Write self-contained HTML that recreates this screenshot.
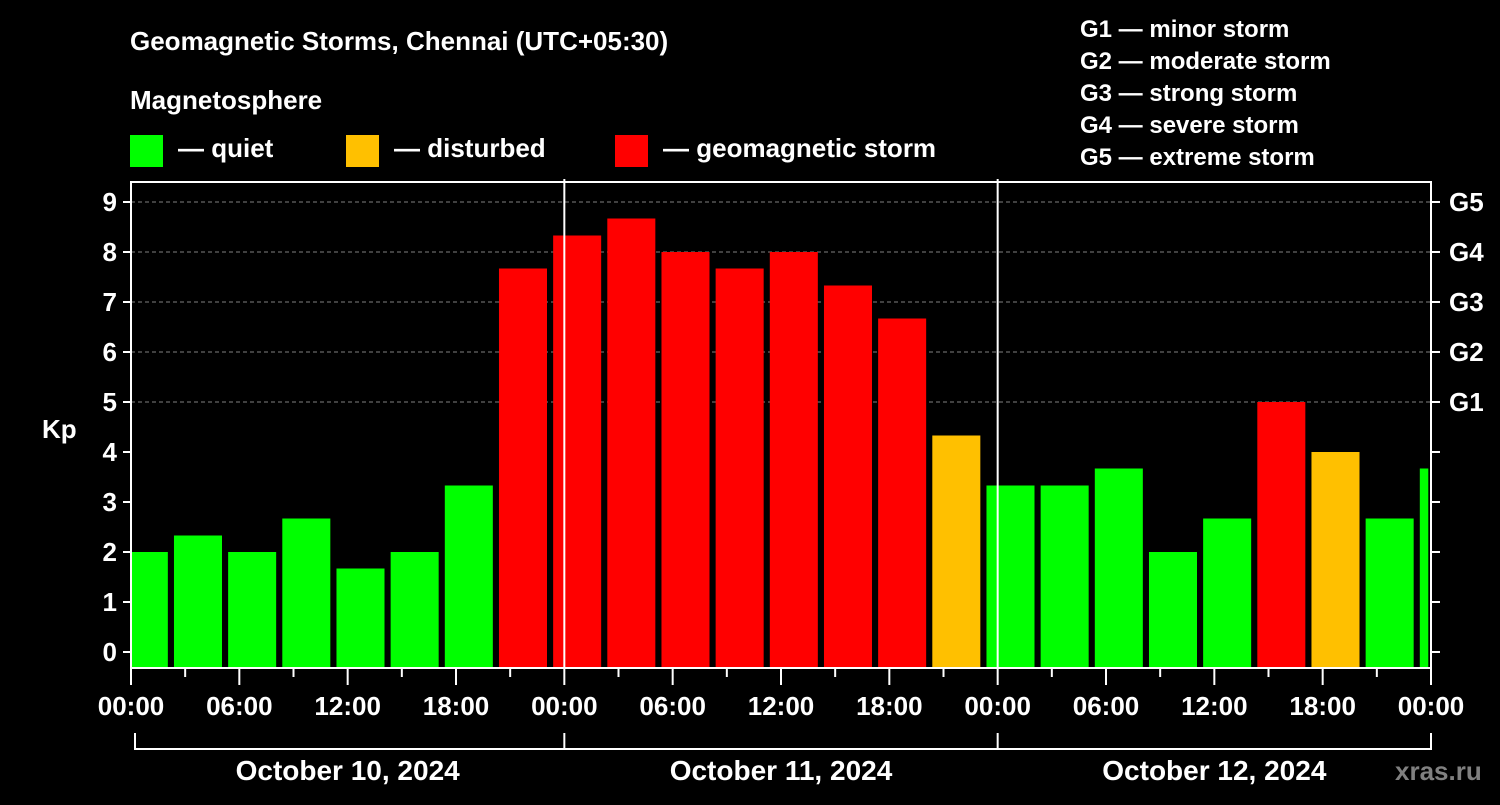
<!DOCTYPE html>
<html><head><meta charset="utf-8"><style>
body{margin:0;background:#000;width:1500px;height:800px;overflow:hidden}
svg text{font-family:"Liberation Sans",Arial,sans-serif;font-weight:bold;fill:#fff}
</style></head><body>
<svg id="c" width="1500" height="800" xmlns="http://www.w3.org/2000/svg">
<rect width="1500" height="800" fill="#000"/>
<text x="130" y="50" font-size="26">Geomagnetic Storms, Chennai (UTC+05:30)</text>
<text x="130" y="109" font-size="26">Magnetosphere</text>
<g><rect x="130" y="135" width="33" height="32" fill="#00ff00"/><text x="178" y="157" font-size="26">— quiet</text></g>
<g><rect x="346" y="135" width="33" height="32" fill="#ffc000"/><text x="394" y="157" font-size="26">— disturbed</text></g>
<g><rect x="615" y="135" width="33" height="32" fill="#ff0000"/><text x="663" y="157" font-size="26">— geomagnetic storm</text></g>
<g font-size="24">
<text x="1080" y="37">G1 — minor storm</text>
<text x="1080" y="69">G2 — moderate storm</text>
<text x="1080" y="101">G3 — strong storm</text>
<text x="1080" y="133">G4 — severe storm</text>
<text x="1080" y="165">G5 — extreme storm</text>
</g>
<text x="42" y="438" font-size="26">Kp</text>
<text x="1395" y="780" font-size="26" fill="#808080" style="fill:#808080">xras.ru</text>
<g id="plot"></g>
</svg>
<script>
const kpValues=[2,2.33,2,2.67,1.67,2,3.33,7.67,8.33,8.67,8,7.67,8,7.33,6.67,4.33,3.33,3.33,3.67,2,2.67,5,4,2.67,3.67];
const yTicks=[0,1,2,3,4,5,6,7,8,9];
const gLabels=["G1","G2","G3","G4","G5"];
const xTickLabels=["00:00","06:00","12:00","18:00","00:00","06:00","12:00","18:00","00:00","06:00","12:00","18:00","00:00"];
const dayLabels=["October 10, 2024","October 11, 2024","October 12, 2024"];
const X0=131,X1=1431,TOP=182,BOT=668,HOURS=72;
const x=h=>X0+h*(X1-X0)/HOURS;
const y=v=>652-50*v;
const NS="http://www.w3.org/2000/svg";
const g=document.getElementById('plot');
function mk(t,a){const e=document.createElementNS(NS,t);for(const k in a)e.setAttribute(k,a[k]);g.appendChild(e);return e;}
// grid
yTicks.forEach(v=>{if(v>=5){const l=mk('line',{x1:X0,x2:X1,y1:y(v),y2:y(v),stroke:'#808080','stroke-width':1,'stroke-dasharray':'4,3'});

}});
// bars
kpValues.forEach((v,i)=>{let h0=-0.62+3*i,h1=h0+2.66;h0=Math.max(h0,0);h1=Math.min(h1,HOURS-0.15);
const col=v>=5?'#ff0000':(v>=4?'#ffc000':'#00ff00');
const r=mk('rect',{x:x(h0),y:y(v),width:x(h1)-x(h0),height:BOT-y(v),fill:col});

});
// frame
const f=mk('rect',{x:X0,y:TOP,width:X1-X0,height:BOT-TOP,fill:'none',stroke:'#fff','stroke-width':2});


[24,48].forEach(h=>{const l=mk('line',{x1:x(h),x2:x(h),y1:TOP-3,y2:BOT,stroke:'#fff','stroke-width':2});

});
// y ticks and labels
yTicks.forEach(v=>{mk('line',{x1:X0-8,x2:X0,y1:y(v),y2:y(v),stroke:'#fff','stroke-width':2});
mk('line',{x1:X1,x2:X1+9,y1:y(v),y2:y(v),stroke:'#fff','stroke-width':2});
const t=mk('text',{x:X0-14,y:y(v)+9,'font-size':26,'text-anchor':'end'});t.textContent=v;

});
gLabels.forEach((s,i)=>{const t=mk('text',{x:1449,y:y(5+i)+9,'font-size':26});t.textContent=s;

});
// x ticks
for(let h=0;h<=HOURS;h+=3){const major=h%6===0;mk('line',{x1:x(h),x2:x(h),y1:BOT,y2:BOT+(major?17:9),stroke:'#fff','stroke-width':2});}
xTickLabels.forEach((s,i)=>{const t=mk('text',{x:x(i*6),y:715,'font-size':26,'text-anchor':'middle'});t.textContent=s;

});
// day bracket
mk('line',{x1:x(0)+4,x2:X1,y1:749,y2:749,stroke:'#fff','stroke-width':2});
[0,24,48,72].forEach(h=>mk('line',{x1:x(h)+(h==0?4:0),x2:x(h)+(h==0?4:0),y1:733,y2:750,stroke:'#fff','stroke-width':2}));
dayLabels.forEach((s,i)=>{const t=mk('text',{x:x(12+24*i),y:780,'font-size':28,'text-anchor':'middle'});t.textContent=s;

});
</script>
</body></html>
